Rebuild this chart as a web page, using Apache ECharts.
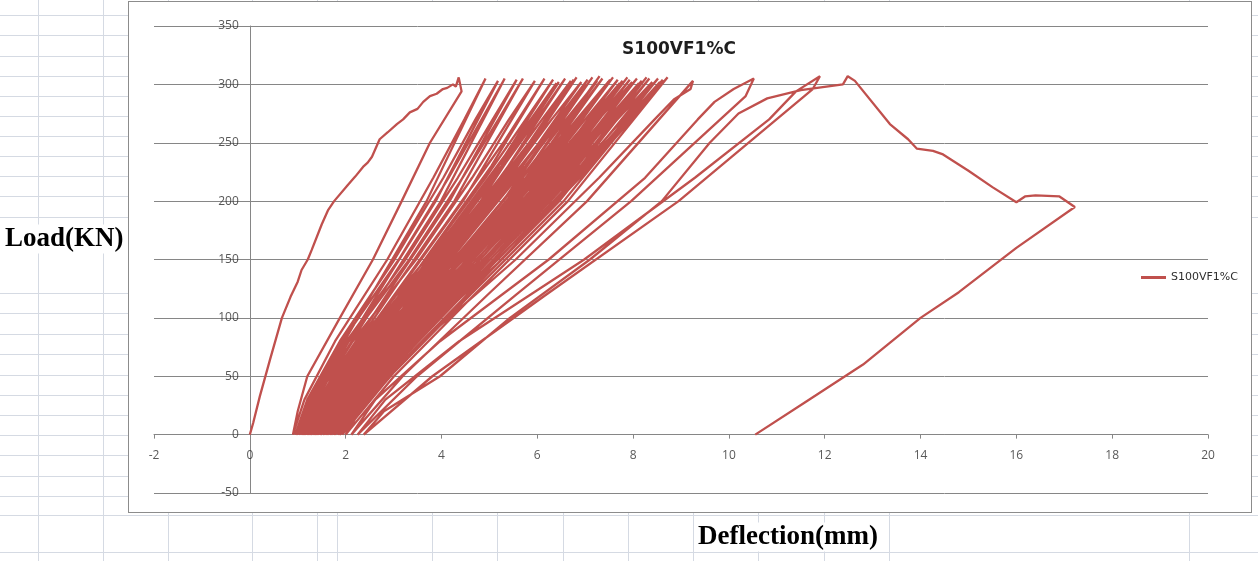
<!DOCTYPE html>
<html>
<head>
<meta charset="utf-8">
<script src="https://cdn.jsdelivr.net/npm/echarts@6/dist/echarts.min.js"></script>
<style>
  html, body { margin: 0; padding: 0; background: #fff; }
  #page { position: relative; width: 1258px; height: 561px; overflow: hidden; background: #fff; }
  .hl { position: absolute; left: 0; width: 1258px; height: 1px; background: #d5dae3; }
  .vl { position: absolute; top: 0; width: 1px; height: 561px; background: #d5dae3; }
  #frame { position: absolute; left: 128px; top: 1px; width: 1122px; height: 510px; border: 1px solid #8c8c8c; background: #fff; }
  #chart { position: absolute; left: 0; top: 0; width: 1258px; height: 561px; }
</style>
</head>
<body>
<div id="page">
  <div id="sheet"></div>
  <div id="frame"></div>
  <div id="chart"></div>
</div>
<script>
// Specimen S100VF1%C: load (kN) against mid-span deflection (mm), [deflection, load]

// Monotonic first loading up to the first 300 kN peak
const firstLoading = [
  [0, 0], [0.07, 10], [0.21, 33], [0.42, 64], [0.67, 100], [0.85, 118], [1.0, 131],
  [1.08, 141], [1.21, 150], [1.29, 158], [1.5, 180], [1.63, 192], [1.76, 200],
  [2.05, 214], [2.2, 221], [2.38, 230], [2.46, 233], [2.55, 238], [2.71, 253],
  [2.88, 259], [3.07, 266], [3.2, 270], [3.34, 276], [3.5, 279], [3.62, 285],
  [3.76, 290], [3.9, 292], [4.03, 296], [4.12, 297], [4.24, 300], [4.3, 298],
  [4.36, 306], [4.42, 294]
];

// First unloading back to the residual deflection
const firstUnloading = [
  [3.76, 250], [3.17, 200], [2.57, 150], [1.88, 100], [1.2, 50], [1.0, 20]
];

// Early load cycles (0 -> ~300 kN -> 0)
const earlyCycles = [
  [0.90, 0], [1.14, 30], [1.78, 80], [2.87, 150], [3.83, 220], [4.48, 270], [4.92, 305], [3.69, 200], [2.54, 120], [1.55, 50],
  [0.95, 0], [1.20, 30], [1.88, 80], [3.02, 150], [4.04, 220], [4.71, 270], [5.18, 303], [3.88, 200], [2.66, 120], [1.61, 50],
  [0.98, 0], [1.24, 30], [1.93, 80], [3.11, 150], [4.15, 220], [4.84, 270], [5.32, 305], [3.99, 200], [2.74, 120], [1.67, 50],
  [1.02, 0], [1.29, 30], [2.02, 80], [3.25, 150], [4.34, 220], [5.07, 270], [5.57, 304], [4.17, 200], [2.86, 120], [1.73, 50],
  [1.05, 0], [1.33, 30], [2.07, 80], [3.33, 150], [4.44, 220], [5.19, 270], [5.70, 305], [4.27, 200], [2.93, 120], [1.77, 50],
  [1.08, 0], [1.37, 30], [2.15, 80], [3.47, 150], [4.64, 220], [5.41, 270], [5.95, 303], [4.45, 200], [3.05, 120], [1.84, 50],
  [1.10, 0], [1.20, 15], [1.61, 40], [2.67, 100], [4.08, 180], [5.29, 250], [6.15, 305], [5.04, 230], [3.48, 140], [2.08, 60]
];

// Main block of repeated cycles
const middleCycles = [
  [1.12, 0], [1.43, 30], [2.27, 80], [3.67, 150], [4.92, 220], [5.76, 270], [6.33, 304], [4.72, 200], [3.22, 120], [1.93, 50],
  [1.15, 0], [1.47, 30], [2.32, 80], [3.75, 150], [5.02, 220], [5.87, 270], [6.45, 302], [4.82, 200], [3.29, 120], [1.97, 50],
  [1.20, 0], [1.30, 15], [1.72, 40], [2.81, 100], [4.27, 180], [5.52, 250], [6.40, 301], [5.25, 230], [3.63, 140], [2.17, 60],
  [1.18, 0], [1.50, 30], [2.37, 80], [3.83, 150], [5.12, 220], [5.99, 270], [6.58, 305], [4.92, 200], [3.36, 120], [2.02, 50],
  [1.22, 0], [1.55, 30], [2.43, 80], [3.91, 150], [5.22, 220], [6.10, 270], [6.70, 303], [5.01, 200], [3.43, 120], [2.07, 50],
  [1.27, 0], [1.38, 15], [1.82, 40], [2.97, 100], [4.51, 180], [5.83, 250], [6.76, 304], [5.55, 230], [3.84, 140], [2.30, 60],
  [1.25, 0], [1.58, 30], [2.48, 80], [3.98, 150], [5.32, 220], [6.21, 270], [6.82, 306], [5.10, 200], [3.50, 120], [2.11, 50],
  [1.28, 0], [1.62, 30], [2.52, 80], [4.04, 150], [5.40, 220], [6.30, 270], [6.92, 302], [5.18, 200], [3.56, 120], [2.16, 50],
  [1.34, 0], [1.45, 15], [1.91, 40], [3.09, 100], [4.68, 180], [6.04, 250], [7.00, 300], [5.75, 230], [3.99, 140], [2.40, 60],
  [1.32, 0], [1.66, 30], [2.58, 80], [4.13, 150], [5.50, 220], [6.42, 270], [7.05, 304], [5.28, 200], [3.63, 120], [2.21, 50],
  [1.35, 0], [1.70, 30], [2.63, 80], [4.19, 150], [5.58, 220], [6.51, 270], [7.15, 306], [5.36, 200], [3.69, 120], [2.25, 50],
  [1.38, 0], [1.73, 30], [2.67, 80], [4.26, 150], [5.67, 220], [6.60, 270], [7.25, 303], [5.44, 200], [3.75, 120], [2.29, 50],
  [1.40, 0], [1.52, 15], [1.99, 40], [3.23, 100], [4.88, 180], [6.30, 250], [7.30, 307], [6.01, 230], [4.18, 140], [2.54, 60],
  [1.42, 0], [1.78, 30], [2.73, 80], [4.33, 150], [5.76, 220], [6.71, 270], [7.36, 305], [5.53, 200], [3.81, 120], [2.34, 50],
  [1.45, 0], [1.81, 30], [2.78, 80], [4.40, 150], [5.85, 220], [6.82, 270], [7.48, 302], [5.62, 200], [3.88, 120], [2.38, 50],
  [1.47, 0], [1.59, 15], [2.08, 40], [3.35, 100], [5.04, 180], [6.49, 250], [7.52, 304], [6.19, 230], [4.32, 140], [2.63, 60],
  [1.48, 0], [1.85, 30], [2.82, 80], [4.47, 150], [5.93, 220], [6.91, 270], [7.58, 306], [5.70, 200], [3.94, 120], [2.43, 50],
  [1.52, 0], [1.89, 30], [2.88, 80], [4.54, 150], [6.02, 220], [7.00, 270], [7.68, 304], [5.78, 200], [4.00, 120], [2.47, 50],
  [1.53, 0], [1.65, 15], [2.15, 40], [3.45, 100], [5.18, 180], [6.67, 250], [7.72, 301], [6.36, 230], [4.45, 140], [2.72, 60],
  [1.55, 0], [1.92, 30], [2.92, 80], [4.60, 150], [6.10, 220], [7.09, 270], [7.78, 303], [5.86, 200], [4.06, 120], [2.51, 50],
  [1.58, 0], [1.96, 30], [2.97, 80], [4.67, 150], [6.18, 220], [7.19, 270], [7.88, 306], [5.94, 200], [4.12, 120], [2.56, 50],
  [1.60, 0], [1.73, 15], [2.23, 40], [3.56, 100], [5.33, 180], [6.85, 250], [7.93, 304], [6.54, 230], [4.59, 140], [2.82, 60],
  [1.62, 0], [2.00, 30], [3.02, 80], [4.74, 150], [6.26, 220], [7.28, 270], [7.98, 302], [6.02, 200], [4.19, 120], [2.61, 50],
  [1.66, 0], [2.05, 30], [3.07, 80], [4.81, 150], [6.35, 220], [7.37, 270], [8.08, 305], [6.10, 200], [4.25, 120], [2.66, 50],
  [1.68, 0], [1.81, 15], [2.32, 40], [3.68, 100], [5.48, 180], [7.03, 250], [8.12, 301], [6.71, 230], [4.72, 140], [2.92, 60],
  [1.70, 0], [2.09, 30], [3.13, 80], [4.88, 150], [6.43, 220], [7.47, 270], [8.18, 303], [6.18, 200], [4.32, 120], [2.71, 50],
  [1.74, 0], [2.13, 30], [3.18, 80], [4.94, 150], [6.51, 220], [7.56, 270], [8.28, 306], [6.27, 200], [4.38, 120], [2.76, 50],
  [1.76, 0], [1.89, 15], [2.42, 40], [3.80, 100], [5.64, 180], [7.22, 250], [8.34, 305], [6.90, 230], [4.86, 140], [3.03, 60],
  [1.78, 0], [2.18, 30], [3.24, 80], [5.02, 150], [6.61, 220], [7.67, 270], [8.40, 302], [6.36, 200], [4.46, 120], [2.82, 50],
  [1.83, 0], [2.23, 30], [3.30, 80], [5.11, 150], [6.71, 220], [7.78, 270], [8.52, 305], [6.46, 200], [4.54, 120], [2.88, 50],
  [1.85, 0], [1.98, 15], [2.52, 40], [3.93, 100], [5.81, 180], [7.42, 250], [8.56, 302], [7.09, 230], [5.02, 140], [3.15, 60],
  [1.88, 0], [2.28, 30], [3.36, 80], [5.18, 150], [6.80, 220], [7.88, 270], [8.62, 304], [6.55, 200], [4.61, 120], [2.93, 50],
  [1.93, 0], [2.34, 30], [3.42, 80], [5.26, 150], [6.89, 220], [7.97, 270], [8.72, 306], [6.64, 200], [4.69, 120], [3.01, 50]
];

// Last cycles, where the peak deflection grows quickly
const lateCycles = [
  [2.00, 0], [2.44, 30], [3.60, 80], [5.55, 150], [7.29, 220], [8.45, 270], [8.85, 287], [9.20, 296], [9.25, 303],
  [7.04, 200], [4.97, 120], [3.19, 50],
  [2.12, 0], [2.62, 30], [3.97, 80], [6.24, 150], [8.25, 220], [9.35, 270], [9.70, 285], [10.10, 296], [10.52, 305],
  [10.35, 290], [7.96, 200], [5.56, 120], [3.49, 50],
  [2.25, 0], [2.83, 30], [4.37, 80], [6.98, 150], [9.29, 220], [10.84, 270], [11.40, 294], [11.90, 307],
  [11.75, 296], [8.95, 200], [6.19, 120], [3.81, 50]
];

// Final loading to failure, softening branch and final unloading
const postPeak = [
  [2.38, 0], [2.80, 20], [3.97, 50], [5.43, 100], [7.10, 150], [8.60, 200], [9.60, 250], [10.20, 275],
  [10.80, 288], [11.50, 295], [12.38, 300], [12.48, 307], [12.63, 303], [13.36, 266], [13.74, 253],
  [13.92, 245], [14.26, 243], [14.47, 240], [15.00, 226], [15.50, 212], [16.00, 199], [16.18, 204],
  [16.40, 205], [16.90, 204], [17.22, 195], [16.00, 160], [14.80, 122], [14.00, 100], [12.80, 60],
  [11.60, 28], [10.55, 0]
];

const seriesName = 'S100VF1%C';
const xTickValues = [-2, 0, 2, 4, 6, 8, 10, 12, 14, 16, 18, 20];
const yTickValues = [-50, 0, 50, 100, 150, 200, 250, 300, 350];

// Worksheet cell borders behind the chart object
const sheetRows = [15, 35, 56, 76, 96, 116, 136, 156, 176, 196, 217, 293, 313, 334, 354, 375, 395, 415, 435, 455, 476, 496, 515, 552];
const sheetCols = [38, 103, 168, 252, 317, 337, 432, 497, 563, 628, 693, 758, 824, 889, 1189];

const sheet = document.getElementById('sheet');
sheetRows.forEach(y => { const d = document.createElement('div'); d.className = 'hl'; d.style.top = y + 'px'; sheet.appendChild(d); });
sheetCols.forEach(x => { const d = document.createElement('div'); d.className = 'vl'; d.style.left = x + 'px'; sheet.appendChild(d); });

const curve = [].concat(firstLoading, firstUnloading, earlyCycles, middleCycles, lateCycles, postPeak);

const axisGrey = '#868686';
const tickLabelStyle = { color: '#2e2e2e', fontFamily: 'Open Sans', fontSize: 12 };

// Tick labels sit beside the axes that cross at the origin
const xLabelSeries = {
  type: 'scatter', silent: true, symbolSize: 0, z: 5,
  data: xTickValues.map(v => [v, 0]),
  label: Object.assign({ show: true, position: 'bottom', distance: 15, formatter: p => String(p.value[0]) }, tickLabelStyle)
};
const yLabelSeries = {
  type: 'scatter', silent: true, symbolSize: 0, z: 5,
  data: yTickValues.map(v => [0, v]),
  label: Object.assign({ show: true, position: 'left', distance: 11, formatter: p => String(p.value[1]) }, tickLabelStyle)
};

const chart = echarts.init(document.getElementById('chart'), null, { renderer: 'canvas' });
chart.setOption({
  animation: false,
  backgroundColor: 'transparent',
  grid: { left: 154, right: 50, top: 26, bottom: 68, containLabel: false },
  xAxis: {
    type: 'value', min: -2, max: 20, interval: 2,
    axisLine: { show: true, onZero: true, lineStyle: { color: axisGrey, width: 1 } },
    axisTick: { show: true, length: 4, lineStyle: { color: axisGrey } },
    axisLabel: { show: false },
    splitLine: { show: false }
  },
  yAxis: {
    type: 'value', min: -50, max: 350, interval: 50,
    axisLine: { show: true, onZero: true, lineStyle: { color: axisGrey, width: 1 } },
    axisTick: { show: false },
    axisLabel: { show: false },
    splitLine: { show: true, lineStyle: { color: axisGrey, width: 1 } }
  },
  legend: {
    left: 1141, top: 272, padding: 0, itemWidth: 25, itemHeight: 3, itemGap: 5,
    textStyle: { color: '#2e2e2e', fontFamily: 'DejaVu Sans', fontSize: 11 },
    data: [{ name: seriesName, icon: 'rect' }]
  },
  series: [{
    name: seriesName,
    type: 'line',
    data: curve,
    symbol: 'none',
    showSymbol: false,
    lineStyle: { color: '#C0504D', width: 2.3 },
    itemStyle: { color: '#C0504D' }
  }, xLabelSeries, yLabelSeries],
  graphic: [
    {
      type: 'text', x: 679, y: 50, z: 100,
      style: { text: seriesName, font: 'bold 17px "DejaVu Sans"', fill: '#1e1e1e', align: 'center', verticalAlign: 'middle' }
    },
    {
      type: 'text', x: 4, y: 239, z: 100,
      style: { text: 'Load(KN)', font: 'bold 27px "Liberation Serif"', fill: '#000', align: 'left', verticalAlign: 'middle', backgroundColor: '#fff', padding: [1, 1] }
    },
    {
      type: 'text', x: 697, y: 537, z: 100,
      style: { text: 'Deflection(mm)', font: 'bold 27px "Liberation Serif"', fill: '#000', align: 'left', verticalAlign: 'middle', backgroundColor: '#fff', padding: [1, 1] }
    }
  ]
});
</script>
</body>
</html>
